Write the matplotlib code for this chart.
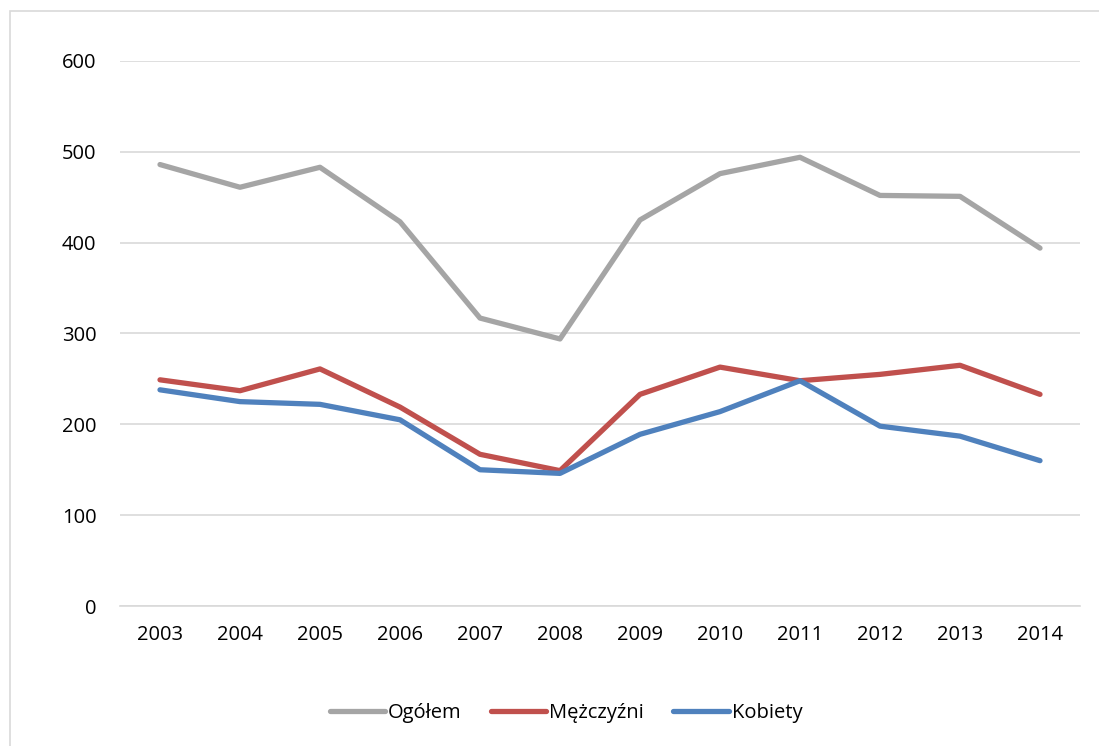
import matplotlib
matplotlib.use("Agg")
import matplotlib.pyplot as plt
from matplotlib.patches import Rectangle

years = ["2003", "2004", "2005", "2006", "2007", "2008",
         "2009", "2010", "2011", "2012", "2013", "2014"]
ogolem = [486, 461, 483, 423, 317, 294, 425, 476, 494, 452, 451, 394]
mezczyzni = [249, 237, 261, 219, 167, 149, 233, 263, 248, 255, 265, 233]
kobiety = [238, 225, 222, 205, 150, 146, 189, 214, 248, 198, 187, 160]

plt.rcParams['font.family'] = ['Open Sans', 'DejaVu Sans']

fig = plt.figure(figsize=(10.99, 7.46), dpi=100)
# outer chart border (Excel-style), right and bottom edges run off the image
fig.patches.append(Rectangle((10 / 1099, -0.2), 1.2, 1.2 - 11 / 746, transform=fig.transFigure,
                             fill=False, edgecolor='#D9D9D9', linewidth=1.2))

ax = fig.add_axes([120 / 1099, 1 - 606 / 746, 960 / 1099, 545 / 746])
x = list(range(len(years)))
ax.plot(x, ogolem, color='#A5A5A5', lw=3.8, label='Ogółem', solid_capstyle='round')
ax.plot(x, mezczyzni, color='#C0504D', lw=3.8, label='Mężczyźni', solid_capstyle='round')
ax.plot(x, kobiety, color='#4F81BD', lw=3.8, label='Kobiety', solid_capstyle='round')

ax.set_xlim(-0.5, len(years) - 0.5)
ax.set_ylim(0, 600)
ax.set_yticks(range(0, 601, 100))
ax.set_xticks(x)
ax.set_xticklabels(years)
ax.grid(axis='y', color='#D9D9D9', lw=1.2)
ax.set_axisbelow(True)
for s in ['top', 'right', 'left']:
    ax.spines[s].set_visible(False)
ax.spines['bottom'].set_color('#D9D9D9')
ax.spines['bottom'].set_linewidth(1.2)
ax.tick_params(length=0, labelsize=14.5, colors='black')
ax.tick_params(axis='x', pad=14)
ax.tick_params(axis='y', pad=17)

fig.legend(loc='center', bbox_to_anchor=(566 / 1099, 1 - 713 / 746), ncol=3, frameon=False,
           fontsize=14.5, handlelength=2.75, handletextpad=0.15, columnspacing=1.45)

fig.savefig('out.png', dpi=100)
